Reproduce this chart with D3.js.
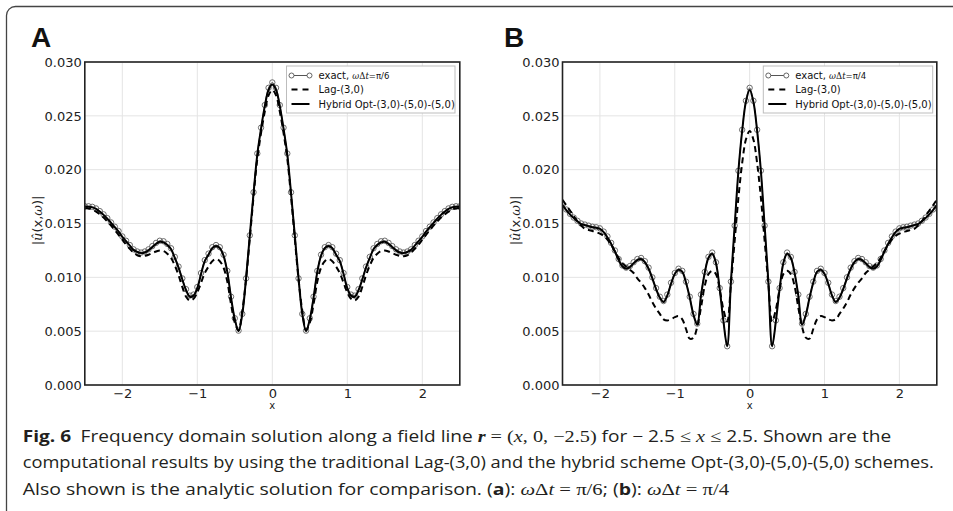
<!DOCTYPE html>
<html>
<head>
<meta charset="utf-8">
<script src="https://cdn.jsdelivr.net/npm/d3@7"></script>
<style>
  body { margin: 0; background: #fff; }
  svg { display: block; }
</style>
</head>
<body>
<svg id="fig" width="953" height="511"></svg>
<script>
// Sampling grid along the field line, x = -2.5 ... 2.5 in steps of 0.05
const xSamples = d3.range(-50, 51).map(i => i / 20);

// Panel A: omega*dt = pi/6
const exactA = [
  0.0166,0.0166,0.01655,0.0164,0.01615,0.01585,0.0155,0.0151,0.0147,0.0143,
  0.0138,0.0134,0.0130,0.0126,0.0124,0.0123,0.0124,0.0126,0.0129,0.0132,
  0.0134,0.01335,0.0131,0.0127,0.0119,0.0110,0.0099,0.0089,0.0083,0.0084,
  0.0091,0.0104,0.0116,0.0122,0.0128,0.0130,0.0128,0.0121,0.0106,0.0082,
  0.0062,0.00505,0.0066,0.0099,0.0139,0.0179,0.0215,0.0239,0.0260,0.0276,
  0.0281,
  0.0276,0.0260,0.0239,0.0215,0.0179,0.0139,0.0099,0.0066,0.00505,0.0062,
  0.0082,0.0106,0.0121,0.0128,0.0130,0.0128,0.0122,0.0116,0.0104,0.0091,
  0.0084,0.0083,0.0089,0.0099,0.0110,0.0119,0.0127,0.0131,0.01335,0.0134,
  0.0132,0.0129,0.0126,0.0124,0.0123,0.0124,0.0126,0.0130,0.0134,0.0138,
  0.0143,0.0147,0.0151,0.0155,0.01585,0.01615,0.0164,0.01655,0.0166,0.0166
];
const lagA = [
  0.0164,0.0164,0.0163,0.0161,0.01585,0.01555,0.0152,0.0148,0.0144,0.01395,
  0.0135,0.01305,0.01265,0.0123,0.01205,0.01195,0.0120,0.0121,0.01225,0.0124,
  0.0125,0.01245,0.0122,0.0118,0.0111,0.0102,0.0091,0.0082,0.00785,0.0080,
  0.0086,0.0095,0.0104,0.0110,0.0115,0.0117,0.0115,0.0109,0.0096,0.0075,
  0.0058,0.0051,0.0069,0.0098,0.0136,0.0175,0.0210,0.0234,0.0254,0.0269,
  0.0274,
  0.0269,0.0254,0.0234,0.0210,0.0175,0.0136,0.0098,0.0069,0.0051,0.0058,
  0.0075,0.0096,0.0109,0.0115,0.0117,0.0115,0.0110,0.0104,0.0095,0.0086,
  0.0080,0.00785,0.0082,0.0091,0.0102,0.0111,0.0118,0.0122,0.01245,0.0125,
  0.0124,0.01225,0.0121,0.0120,0.01195,0.01205,0.0123,0.01265,0.01305,0.0135,
  0.01395,0.0144,0.0148,0.0152,0.01555,0.01585,0.0161,0.0163,0.0164,0.0164
];
const hybridA = [
  0.01655,0.01655,0.0165,0.01635,0.0161,0.0158,0.01545,0.01505,0.01465,0.01425,
  0.01375,0.01335,0.01295,0.01255,0.01235,0.01225,0.0123,0.0125,0.0128,0.0131,
  0.0133,0.01325,0.0130,0.0126,0.0118,0.0109,0.0098,0.0088,0.0082,0.0083,
  0.0090,0.0103,0.0115,0.0121,0.0127,0.0129,0.0127,0.0120,0.0105,0.0081,
  0.0061,0.0050,0.0066,0.0099,0.0139,0.0178,0.0214,0.0238,0.0259,0.0274,
  0.0279,
  0.0274,0.0259,0.0238,0.0214,0.0178,0.0139,0.0099,0.0066,0.0050,0.0061,
  0.0081,0.0105,0.0120,0.0127,0.0129,0.0127,0.0121,0.0115,0.0103,0.0090,
  0.0083,0.0082,0.0088,0.0098,0.0109,0.0118,0.0126,0.0130,0.01325,0.0133,
  0.0131,0.0128,0.0125,0.0123,0.01225,0.01235,0.01255,0.01295,0.01335,0.01375,
  0.01425,0.01465,0.01505,0.01545,0.0158,0.0161,0.01635,0.0165,0.01655,0.01655
];

// Panel B: omega*dt = pi/4
const exactB = [
  0.0168,0.0163,0.0159,0.01555,0.01525,0.0150,0.0149,0.0148,0.0147,0.01465,
  0.01455,0.01425,0.0138,0.0132,0.0125,0.0117,0.0111,0.0109,0.01105,0.0114,
  0.0117,0.0118,0.0115,0.0109,0.0100,0.0090,0.0082,0.0078,0.0084,0.0095,
  0.0104,0.0108,0.0106,0.0096,0.0082,0.0066,0.0057,0.0084,0.0105,0.0119,
  0.0123,0.0114,0.0090,0.0060,0.0036,0.0096,0.0148,0.0199,0.0237,0.0264,
  0.0276,
  0.0264,0.0237,0.0199,0.0148,0.0096,0.0036,0.0060,0.0090,0.0114,0.0123,
  0.0119,0.0105,0.0084,0.0057,0.0066,0.0082,0.0096,0.0106,0.0108,0.0104,
  0.0095,0.0084,0.0078,0.0082,0.0090,0.0100,0.0109,0.0115,0.0118,0.0117,
  0.0114,0.01105,0.0109,0.0111,0.0117,0.0125,0.0132,0.0138,0.01425,0.01455,
  0.01465,0.0147,0.0148,0.0149,0.0150,0.01525,0.01555,0.0159,0.0163,0.0168
];
const lagB = [
  0.0172,0.0167,0.0162,0.0157,0.0152,0.0148,0.0145,0.0144,0.0143,0.0142,
  0.01405,0.01385,0.0135,0.0130,0.0124,0.0118,0.0113,0.0110,0.0107,0.0104,
  0.0099,0.0095,0.0090,0.0084,0.0077,0.0071,0.0066,0.0061,0.0060,0.0061,
  0.0063,0.0064,0.0061,0.0052,0.0043,0.0044,0.0054,0.0072,0.0092,0.0103,
  0.0106,0.0103,0.0089,0.0070,0.0059,0.0094,0.0134,0.0174,0.0206,0.0228,
  0.0236,
  0.0228,0.0206,0.0174,0.0134,0.0094,0.0059,0.0070,0.0089,0.0103,0.0106,
  0.0103,0.0092,0.0072,0.0054,0.0044,0.0043,0.0052,0.0061,0.0064,0.0063,
  0.0061,0.0060,0.0061,0.0066,0.0071,0.0077,0.0084,0.0090,0.0095,0.0099,
  0.0104,0.0107,0.0110,0.0113,0.0118,0.0124,0.0130,0.0135,0.01385,0.01405,
  0.0142,0.0143,0.0144,0.0145,0.0148,0.0152,0.0157,0.0162,0.0167,0.0172
];
const hybridB = [
  0.0167,0.01625,0.01585,0.0155,0.0152,0.01495,0.01485,0.01475,0.01465,0.0146,
  0.0145,0.0142,0.0137,0.0131,0.0124,0.0116,0.0110,0.0108,0.01095,0.0113,
  0.0116,0.0117,0.0114,0.0108,0.0099,0.0089,0.0081,0.0077,0.0083,0.0094,
  0.0103,0.0107,0.0105,0.0095,0.0081,0.0065,0.0056,0.0083,0.0104,0.0118,
  0.0122,0.0113,0.0089,0.0059,0.0036,0.0096,0.0148,0.0199,0.0236,0.0263,
  0.0274,
  0.0263,0.0236,0.0199,0.0148,0.0096,0.0036,0.0059,0.0089,0.0113,0.0122,
  0.0118,0.0104,0.0083,0.0056,0.0065,0.0081,0.0095,0.0105,0.0107,0.0103,
  0.0094,0.0083,0.0077,0.0081,0.0089,0.0099,0.0108,0.0114,0.0117,0.0116,
  0.0113,0.01095,0.0108,0.0110,0.0116,0.0124,0.0131,0.0137,0.0142,0.0145,
  0.0146,0.01465,0.01475,0.01485,0.01495,0.0152,0.0155,0.01585,0.01625,0.0167
];

// Axis ticks
const xTicks = [-2, -1, 0, 1, 2];
const yTicks = [0, 0.005, 0.010, 0.015, 0.020, 0.025, 0.030];
const seriesNames = ["exact", "Lag-(3,0)", "Hybrid Opt-(3,0)-(5,0)-(5,0)"];

const svg = d3.select("#fig");

// Rounded frame around the whole figure
svg.append("rect")
  .attr("x", 6.5).attr("y", 6.5)
  .attr("width", 980).attr("height", 540)
  .attr("rx", 9).attr("ry", 9)
  .attr("fill", "none").attr("stroke", "#444").attr("stroke-width", 1.3);

const panels = [
  { id: "A", x0: 84.8, x1: 459.8, tag: "A", tagX: 31, exact: exactA, lag: lagA, hybrid: hybridA,
    frac: "π/6", legX: 286.5, legW: 168.5 },
  { id: "B", x0: 562.5, x1: 936.8, tag: "B", tagX: 504, exact: exactB, lag: lagB, hybrid: hybridB,
    frac: "π/4", legX: 763.3, legW: 169.4 }
];
const yTop = 62, yBot = 385;

panels.forEach(p => {
  const x = d3.scaleLinear().domain([-2.5, 2.5]).range([p.x0, p.x1]);
  const y = d3.scaleLinear().domain([0, 0.030]).range([yBot, yTop]);
  const g = svg.append("g");

  // panel tag
  g.append("text").attr("x", p.tagX).attr("y", 47)
    .attr("font-family", "Liberation Sans, Arial, sans-serif")
    .attr("font-weight", "bold").attr("font-size", 28).attr("fill", "#111")
    .text(p.tag);

  // grid
  g.append("g").selectAll("line").data(xTicks).join("line")
    .attr("x1", d => x(d)).attr("x2", d => x(d))
    .attr("y1", yTop).attr("y2", yBot)
    .attr("stroke", "#e4e4e4").attr("stroke-width", 1);
  g.append("g").selectAll("line").data(yTicks).join("line")
    .attr("x1", p.x0).attr("x2", p.x1)
    .attr("y1", d => y(d)).attr("y2", d => y(d))
    .attr("stroke", "#e4e4e4").attr("stroke-width", 1);

  // clip
  const clipId = "clip" + p.id;
  svg.append("clipPath").attr("id", clipId)
    .append("rect").attr("x", p.x0).attr("y", yTop)
    .attr("width", p.x1 - p.x0).attr("height", yBot - yTop);
  const plot = g.append("g").attr("clip-path", `url(#${clipId})`);

  const line = d3.line()
    .x((d, i) => x(xSamples[i]))
    .y(d => y(d))
    .curve(d3.curveCatmullRom.alpha(0.5));

  // analytic solution: thin line with open circles
  plot.append("path").datum(p.exact).attr("d", line)
    .attr("fill", "none").attr("stroke", "#555").attr("stroke-width", 1);
  plot.append("g").selectAll("circle").data(p.exact).join("circle")
    .attr("cx", (d, i) => x(xSamples[i])).attr("cy", d => y(d))
    .attr("r", 2.7).attr("fill", "none")
    .attr("stroke", "#5e5e5e").attr("stroke-width", 0.9);

  // Lag-(3,0): dashed
  plot.append("path").datum(p.lag).attr("d", line)
    .attr("fill", "none").attr("stroke", "#000").attr("stroke-width", 2)
    .attr("stroke-dasharray", "6,4");

  // Hybrid scheme: solid
  plot.append("path").datum(p.hybrid).attr("d", line)
    .attr("fill", "none").attr("stroke", "#000").attr("stroke-width", 2);

  // axes
  const yAxis = d3.axisLeft(y).tickValues(yTicks).tickSize(0).tickPadding(3)
    .tickFormat(d3.format(".3f"));
  const ya = g.append("g").attr("transform", `translate(${p.x0},0)`).call(yAxis);
  ya.select(".domain").remove();
  ya.selectAll("text").attr("font-family", "DejaVu Sans, sans-serif")
    .attr("font-size", 13).attr("fill", "#222");

  const xAxis = d3.axisBottom(x).tickValues(xTicks).tickSize(0).tickPadding(4)
    .tickFormat(d => d < 0 ? "\u2212" + Math.abs(d) : String(d));
  const xa = g.append("g").attr("transform", `translate(0,${yBot})`).call(xAxis);
  xa.select(".domain").remove();
  xa.selectAll("text").attr("font-family", "DejaVu Sans, sans-serif")
    .attr("font-size", 13).attr("fill", "#222");

  // frame
  g.append("rect").attr("x", p.x0).attr("y", yTop)
    .attr("width", p.x1 - p.x0).attr("height", yBot - yTop)
    .attr("fill", "none").attr("stroke", "#222").attr("stroke-width", 1.6);

  // axis titles
  g.append("text").attr("x", (p.x0 + p.x1) / 2).attr("y", 409)
    .attr("text-anchor", "middle")
    .attr("font-family", "DejaVu Sans, sans-serif").attr("font-size", 10).attr("fill", "#222")
    .text("x");
  const yl = g.append("text")
    .attr("transform", `translate(${p.x0 - 42.5},${(yTop + yBot) / 2 - 3}) rotate(-90)`)
    .attr("text-anchor", "middle")
    .attr("font-family", "DejaVu Sans, sans-serif").attr("font-size", 13).attr("fill", "#222");
  yl.append("tspan").text("|");
  yl.append("tspan").attr("font-family", "DejaVu Serif, serif").attr("font-style", "italic").text("û");
  yl.append("tspan").text("(x,");
  yl.append("tspan").attr("font-family", "DejaVu Serif, serif").attr("font-style", "italic").text("ω");
  yl.append("tspan").text(")|");

  // legend
  const lg = g.append("g");
  const lx = p.legX, ly = 66;
  lg.append("rect").attr("x", lx).attr("y", ly).attr("width", p.legW).attr("height", 47)
    .attr("fill", "#fff").attr("stroke", "#bdbdbd").attr("stroke-width", 1);
  const rows = [ly + 9.5, ly + 23.5, ly + 38];
  const sx0 = lx + 5, sx1 = lx + 23;
  // row 1: analytic
  lg.append("line").attr("x1", sx0).attr("x2", sx1).attr("y1", rows[0]).attr("y2", rows[0])
    .attr("stroke", "#555").attr("stroke-width", 1);
  lg.selectAll("circle.m").data([sx0, sx1]).join("circle")
    .attr("cx", d => d).attr("cy", rows[0]).attr("r", 2.5)
    .attr("fill", "#fff").attr("stroke", "#555").attr("stroke-width", 0.9);
  // row 2: dashed
  lg.append("line").attr("x1", sx0).attr("x2", sx1).attr("y1", rows[1]).attr("y2", rows[1])
    .attr("stroke", "#000").attr("stroke-width", 2).attr("stroke-dasharray", "6,5");
  // row 3: solid
  lg.append("line").attr("x1", sx0).attr("x2", sx1).attr("y1", rows[2]).attr("y2", rows[2])
    .attr("stroke", "#000").attr("stroke-width", 2);

  const tx = lx + 32;
  const t1 = lg.append("text").attr("x", tx).attr("y", rows[0] + 3.5)
    .attr("font-family", "DejaVu Sans, sans-serif").attr("font-size", 10).attr("fill", "#111");
  t1.append("tspan").text(seriesNames[0] + ", ");
  t1.append("tspan").attr("font-family", "DejaVu Serif, serif").attr("font-style", "italic").attr("font-size", 8.5).text("ω");
  t1.append("tspan").attr("font-family", "DejaVu Serif, serif").attr("font-size", 8.5).text("Δ");
  t1.append("tspan").attr("font-family", "DejaVu Serif, serif").attr("font-style", "italic").attr("font-size", 8.5).text("t");
  t1.append("tspan").attr("font-size", 8.5).text("=" + p.frac);
  lg.append("text").attr("x", tx).attr("y", rows[1] + 3.5)
    .attr("font-family", "DejaVu Sans, sans-serif").attr("font-size", 10).attr("fill", "#111")
    .text(seriesNames[1]);
  lg.append("text").attr("x", tx).attr("y", rows[2] + 3.5)
    .attr("font-family", "DejaVu Sans, sans-serif").attr("font-size", 10).attr("fill", "#111")
    .text(seriesNames[2]);
});

// Caption
const capFont = "Open Sans, Lato, sans-serif";
const mathFont = "Liberation Serif, DejaVu Serif, serif";
const capLines = [
  { y: 441.5, w: 869, parts: [
    { t: "Fig. 6", b: true }, { t: "\u2002Frequency domain solution along a field line " },
    { t: "r", b: true, i: true, m: true }, { t: " = (", m: true }, { t: "x", i: true, m: true },
    { t: ", 0, \u22122.5)", m: true }, { t: " for \u2212 2.5 " }, { t: "\u2264 ", m: true },
    { t: "x", i: true, m: true }, { t: " \u2264", m: true }, { t: " 2.5. Shown are the" } ] },
  { y: 468, w: 912, parts: [
    { t: "computational results by using the traditional Lag-(3,0) and the hybrid scheme Opt-(3,0)-(5,0)-(5,0) schemes." } ] },
  { y: 494.5, w: 707, parts: [
    { t: "Also shown is the analytic solution for comparison. (" }, { t: "a", b: true }, { t: "): " },
    { t: "ω", i: true, m: true }, { t: "Δ", m: true }, { t: "t", i: true, m: true }, { t: " = π/6", m: true },
    { t: "; (" }, { t: "b", b: true }, { t: "): " },
    { t: "ω", i: true, m: true }, { t: "Δ", m: true }, { t: "t", i: true, m: true }, { t: " = π/4", m: true } ] }
];
capLines.forEach(l => {
  const t = svg.append("text").attr("x", 0).attr("y", 0)
    .attr("font-family", capFont).attr("font-size", 16).attr("fill", "#231f20")
    .attr("xml:space", "preserve");
  l.parts.forEach(pt => {
    const s = t.append("tspan").text(pt.t);
    if (pt.b) s.attr("font-weight", "bold");
    if (pt.i) s.attr("font-style", "italic");
    if (pt.m) s.attr("font-family", mathFont).attr("font-size", 17);
  });
  const len = t.node().getComputedTextLength();
  t.attr("transform", `translate(22.7,${l.y}) scale(${l.w / len},1)`);
});
</script>
</body>
</html>
